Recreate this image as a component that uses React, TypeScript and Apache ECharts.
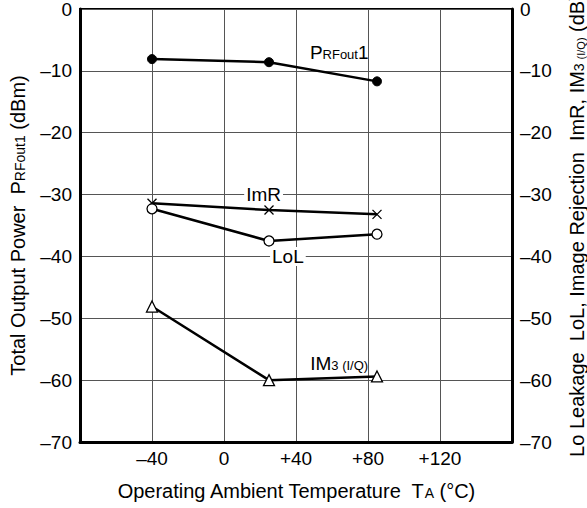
import React, { useEffect, useRef } from "react";
import * as echarts from "echarts";

const temps = [-40, 25, 85];
const prfout1 = [-8.1, -8.6, -11.7];
const imr = [-31.4, -32.5, -33.2];
const lol = [-32.3, -37.5, -36.4];
const im3 = [-48.1, -60.0, -59.4];

const FONT = "Liberation Sans, Arial, sans-serif";
const FS = 19;
const NFS = 20;

const fmtY = (v: number) => (v < 0 ? "\u2013" + Math.abs(v) : String(v));
const fmtX = (v: number) => {
  if (v === -80 || v === 160) return "";
  if (v < 0) return "\u2013" + Math.abs(v);
  if (v > 0) return "+" + v;
  return "0";
};

const pair = (ys: number[]) => temps.map((t, i) => [t, ys[i]]);

export default function App() {
  const ref = useRef<HTMLDivElement>(null);
  useEffect(() => {
    if (!ref.current) return;
    const chart = echarts.init(ref.current, null, { renderer: "svg" });
    const lineBase = {
      type: "line" as const,
      lineStyle: { color: "#000", width: 2.5 },
      z: 5,
    };
    const richCommon = {
      n: { fontFamily: FONT, fontSize: FS, color: "#000" },
      s: { fontFamily: FONT, fontSize: 13, color: "#000", verticalAlign: "bottom", padding: [0, 0, 1, 0] },
      ss: { fontFamily: FONT, fontSize: 10, color: "#000", verticalAlign: "bottom", padding: [0, 0, 1, 0] },
    };
    const richName = {
      n: { fontFamily: FONT, fontSize: NFS, color: "#000" },
      s: { fontFamily: FONT, fontSize: 14, color: "#000", verticalAlign: "bottom", padding: [0, 0, 1, 0] },
      ss: { fontFamily: FONT, fontSize: 11, color: "#000", verticalAlign: "bottom", padding: [0, 0, 1, 0] },
    };
    const annot = (x: number, y: number, text: string, bg: boolean) => ({
      coord: [x, y],
      symbol: "rect",
      symbolSize: 1,
      itemStyle: { color: "rgba(0,0,0,0)" },
      label: {
        show: true,
        position: "inside",
        formatter: text,
        fontFamily: FONT,
        fontSize: FS,
        color: "#000",
        backgroundColor: bg ? "#fff" : "transparent",
        padding: [0, 2, 0, 2],
        rich: richCommon,
      },
    });
    chart.setOption({
      animation: false,
      grid: {
        left: 80,
        right: 75,
        top: 9,
        bottom: 66,
        show: true,
        containLabel: false,
        outerBoundsMode: "none",
        borderColor: "#000",
        borderWidth: 2,
        backgroundColor: "#fff",
      },
      xAxis: {
        type: "value",
        min: -80,
        max: 160,
        interval: 40,
        axisLine: { show: true, onZero: false, lineStyle: { color: "#000", width: 3 } },
        axisTick: { show: false },
        axisLabel: { formatter: fmtX, fontFamily: FONT, fontSize: FS, color: "#000", margin: 7 },
        splitLine: { show: true, lineStyle: { color: "#555", width: 1 } },
        name: "{n|Operating Ambient Temperature  T}{s|A}{n| (°C)}",
        nameLocation: "middle",
        nameGap: 39,
        nameTextStyle: { fontFamily: FONT, fontSize: NFS, color: "#000", rich: richName },
      },
      yAxis: [
        {
          type: "value",
          min: -70,
          max: 0,
          interval: 10,
          position: "left",
          axisLine: { show: true, onZero: false, lineStyle: { color: "#000", width: 3 } },
          axisTick: { show: false },
          axisLabel: { formatter: fmtY, fontFamily: FONT, fontSize: FS, color: "#000", margin: 8 },
          splitLine: { show: true, lineStyle: { color: "#555", width: 1 } },
          name: "{n|Total Output Power  P}{s|RFout1}{n| (dBm)}",
          nameLocation: "middle",
          nameGap: 52,
          nameRotate: 90,
          nameTextStyle: { fontFamily: FONT, fontSize: NFS, color: "#000", rich: richName },
        },
        {
          type: "value",
          min: -70,
          max: 0,
          interval: 10,
          position: "right",
          axisLine: { show: true, onZero: false, lineStyle: { color: "#000", width: 3 } },
          axisTick: { show: false },
          axisLabel: { formatter: fmtY, fontFamily: FONT, fontSize: FS, color: "#000", margin: 8 },
          splitLine: { show: false },
          name: "{n|Lo Leakage  LoL, Image Rejection  ImR, IM}{s|3 }{ss|(I/Q)}{n| (dB)}",
          nameLocation: "middle",
          nameGap: 55,
          nameRotate: 90,
          nameTextStyle: { fontFamily: FONT, fontSize: NFS, color: "#000", rich: richName },
        },
      ],
      series: [
        {
          ...lineBase,
          name: "PRFout1",
          data: pair(prfout1),
          symbol: "circle",
          symbolSize: 9,
          itemStyle: { color: "#000", borderColor: "#000", borderWidth: 1 },
          markPoint: { data: [annot(64, -7.0, "{n|P}{s|RFout}{n|1}", false)] },
        },
        {
          ...lineBase,
          name: "ImR",
          data: pair(imr),
          symbol: "path://M0,0L10,10M10,0L0,10",
          symbolSize: 9,
          itemStyle: { color: "none", borderColor: "#000", borderWidth: 1.3 },
          markPoint: { data: [annot(22, -30, "ImR", true)] },
        },
        {
          ...lineBase,
          name: "LoL",
          data: pair(lol),
          symbol: "circle",
          symbolSize: 10,
          itemStyle: { color: "#fff", borderColor: "#000", borderWidth: 1.3 },
          markPoint: { data: [annot(35.5, -40, "LoL", true)] },
        },
        {
          ...lineBase,
          name: "IM3",
          data: pair(im3),
          symbol: "triangle",
          symbolSize: 11,
          itemStyle: { color: "#fff", borderColor: "#000", borderWidth: 1.3 },
          markPoint: { data: [annot(64, -57.3, "{n|IM}{s|3 (I/Q)}", false)] },
        },
      ],
    });
    return () => chart.dispose();
  }, []);
  return <div ref={ref} style={{ width: 587, height: 508, position: "absolute", left: 0, top: 0 }} />;
}
